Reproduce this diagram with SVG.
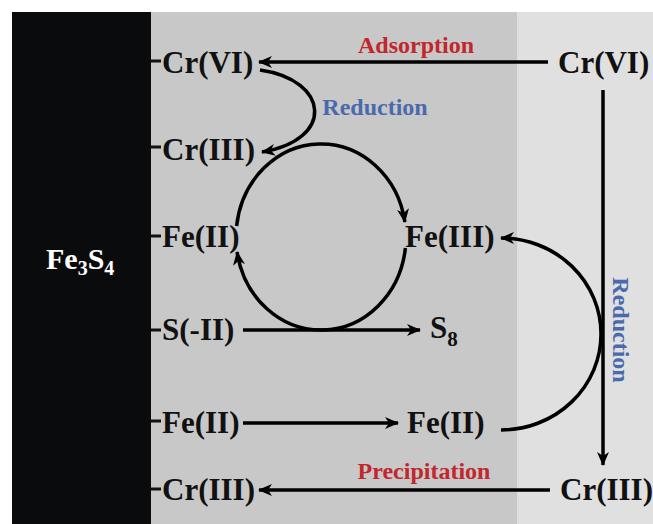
<svg xmlns="http://www.w3.org/2000/svg" width="653" height="524" viewBox="0 0 653 524">
<defs>
<style>
.lbl{font-family:"Liberation Serif","Times New Roman",serif;font-weight:bold;font-size:31px;fill:#111}
.red{font-family:"Liberation Serif","Times New Roman",serif;font-weight:bold;font-size:24px;fill:#c1272d}
.blue{font-family:"Liberation Serif","Times New Roman",serif;font-weight:bold;font-size:24px;fill:#4a6aae}
.tick{stroke:#111;stroke-width:3}
.ln{fill:none;stroke:#000;stroke-width:3.5}
</style>
<marker id="ah" markerUnits="userSpaceOnUse" markerWidth="16" markerHeight="14" refX="13" refY="6" orient="auto">
<path d="M0,0 L14,6 L0,12 L4,6 Z" fill="#000"/>
</marker>
</defs>
<rect x="0" y="0" width="653" height="524" fill="#fff"/>
<rect id="panel-fe3s4" x="12" y="12" width="139" height="512" fill="#0a0b0d"/>
<rect id="panel-surface" x="151" y="12" width="366" height="512" fill="#c8c8c8"/>
<rect id="panel-solution" x="517" y="12" width="136" height="512" fill="#e0e0e0"/>

<g id="fe3s4">
<text x="46" y="269" font-family="Liberation Serif, serif" font-weight="bold" font-size="30" fill="#fff">Fe<tspan font-size="20" dy="6">3</tspan><tspan dy="-6">S</tspan><tspan font-size="20" dy="6">4</tspan></text>
</g>

<g id="connectors">
<line class="ln" x1="548" y1="62" x2="259" y2="62" marker-end="url(#ah)"/>
<path class="ln" d="M260,70 C330,80 335,140 262,152" marker-end="url(#ah)"/>
<path class="ln" d="M236.6,226 A85,93 0 0 1 404.9,222" marker-end="url(#ah)"/>
<path class="ln" d="M405.4,248 A85,93 0 0 1 237.1,252" marker-end="url(#ah)"/>
<line class="ln" x1="243" y1="330" x2="420" y2="330" marker-end="url(#ah)"/>
<line class="ln" x1="243" y1="423" x2="398" y2="423" marker-end="url(#ah)"/>
<path class="ln" d="M501,430 A100,96 0 0 0 501,238" marker-end="url(#ah)"/>
<line class="ln" x1="603" y1="90" x2="603" y2="465" marker-end="url(#ah)"/>
<line class="ln" x1="550" y1="490" x2="259" y2="490" marker-end="url(#ah)"/>
</g>

<g id="label-adsorption"><text class="red" x="416" y="53" text-anchor="middle">Adsorption</text></g>
<g id="label-reduction-1"><text class="blue" x="375" y="115" text-anchor="middle">Reduction</text></g>
<g id="label-reduction-2"><text class="blue" transform="translate(613,330) rotate(90)" text-anchor="middle">Reduction</text></g>
<g id="label-precipitation"><text class="red" x="424" y="479" text-anchor="middle">Precipitation</text></g>

<g id="s-crvi"><line class="tick" x1="151" y1="61" x2="161" y2="61"/><text class="lbl" x="162" y="73">Cr(VI)</text></g>
<g id="s-criii"><line class="tick" x1="151" y1="147" x2="161" y2="147"/><text class="lbl" x="162" y="160">Cr(III)</text></g>
<g id="s-feii"><line class="tick" x1="151" y1="236" x2="161" y2="236"/><text class="lbl" x="162" y="247">Fe(II)</text></g>
<g id="s-sii"><line class="tick" x1="151" y1="330" x2="161" y2="330"/><text class="lbl" x="162" y="340">S(-II)</text></g>
<g id="s-feii-2"><line class="tick" x1="151" y1="421" x2="161" y2="421"/><text class="lbl" x="162" y="433">Fe(II)</text></g>
<g id="s-criii-2"><line class="tick" x1="151" y1="489" x2="161" y2="489"/><text class="lbl" x="162" y="500">Cr(III)</text></g>

<g id="feiii"><text class="lbl" x="405" y="247">Fe(III)</text></g>
<g id="s8"><text class="lbl" x="430" y="338">S<tspan font-size="21" dy="8">8</tspan></text></g>
<g id="feii-out"><text class="lbl" x="407" y="433">Fe(II)</text></g>
<g id="aq-crvi"><text class="lbl" x="558" y="73">Cr(VI)</text></g>
<g id="aq-criii"><text class="lbl" x="560" y="500">Cr(III)</text></g>
</svg>
